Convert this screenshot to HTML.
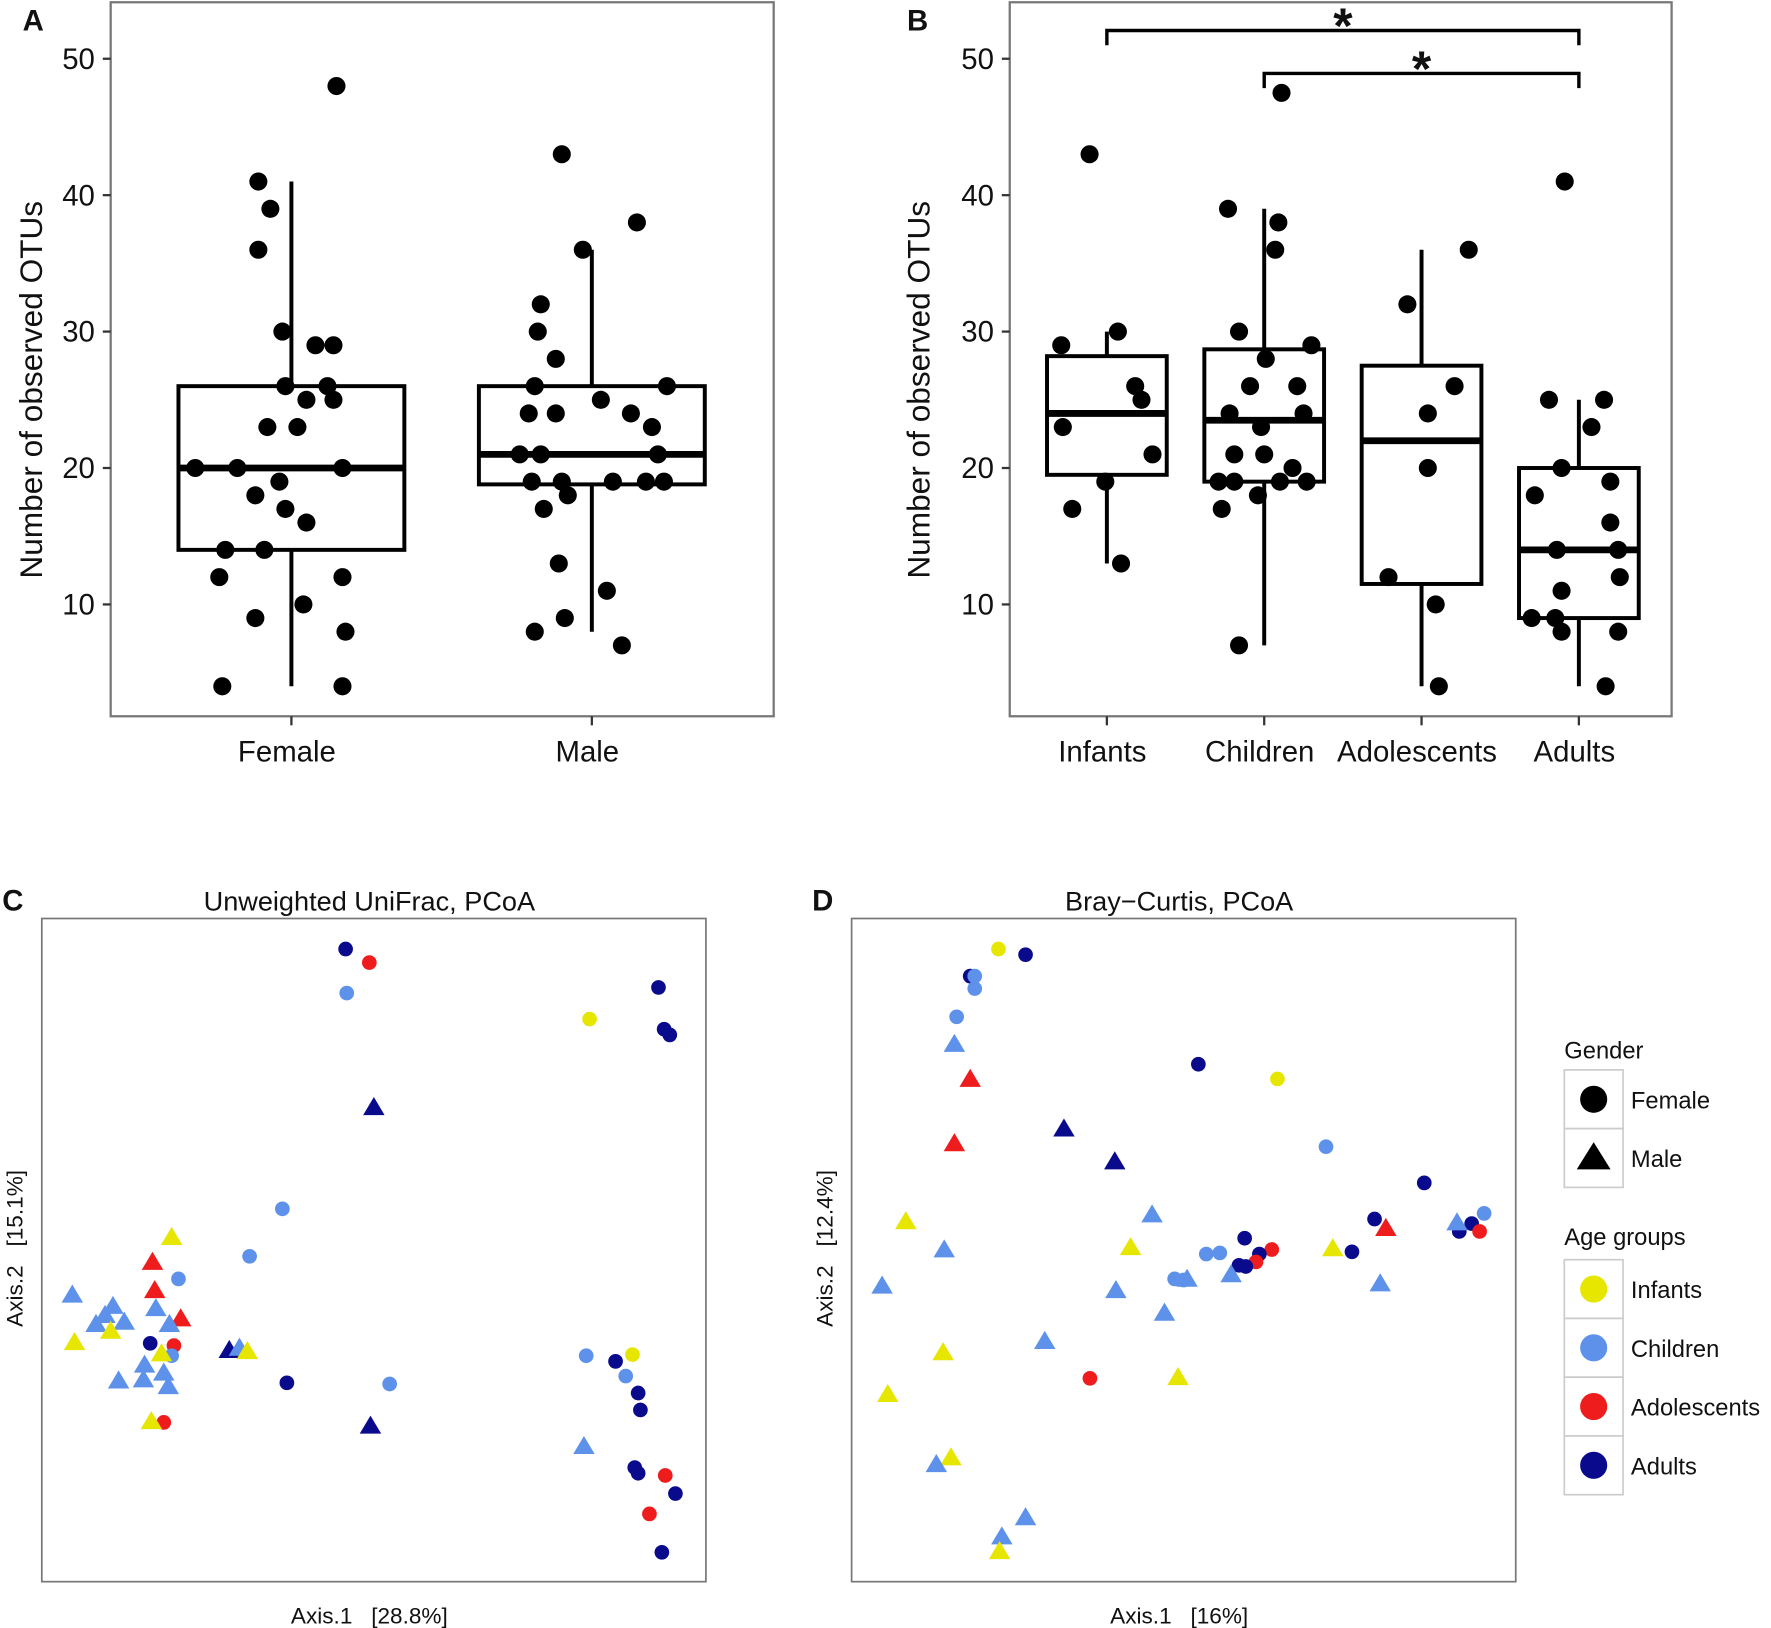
<!DOCTYPE html>
<html><head><meta charset="utf-8"><style>
html,body{margin:0;padding:0;background:#fff}
svg{display:block;font-family:"Liberation Sans",Arial,sans-serif}
text{white-space:pre}
</style></head><body>
<svg id="fig" width="1771" height="1628" viewBox="0 0 1568 1441" preserveAspectRatio="none" xmlns="http://www.w3.org/2000/svg">
<g id="gA"></g>
<g id="gB"></g>
<g id="gC"></g>
<g id="gD"></g>
<g id="gL"></g>
</svg>
<script>
// ---- Panel A data ----
const catsA = ["Female","Male"];
const boxA = [[4,14,20,26,41],[8,18.8,21,26,36]];
const ptsAFemale = [48,41,39,36,30,29,29,26,26,25,25,23,23,20,20,20,19,18,17,16,14,14,12,12,10,9,8,4,4];
const jitAFemale = [0.15,-0.11,-0.07,-0.11,-0.03,0.08,0.14,-0.02,0.12,0.05,0.14,-0.08,0.02,-0.32,-0.18,0.17,-0.04,-0.12,-0.02,0.05,-0.22,-0.09,-0.24,0.17,0.04,-0.12,0.18,-0.23,0.17];
const ptsAMale = [43,38,36,32,30,28,26,26,25,24,24,24,23,21,21,21,19,19,19,19,19,18,17,13,11,9,8,7];
const jitAMale = [-0.1,0.15,-0.03,-0.17,-0.18,-0.12,-0.19,0.25,0.03,-0.21,-0.12,0.13,0.2,-0.24,-0.17,0.22,-0.2,-0.1,0.07,0.18,0.24,-0.08,-0.16,-0.11,0.05,-0.09,-0.19,0.1];
// ---- Panel B data ----
const catsB = ["Infants","Children","Adolescents","Adults"];
const boxB = [[13,19.5,24,28.2,30],[7,19,23.5,28.7,39],[4,11.5,22,27.5,36],[4,9,14,20,25]];
const ptsB = [
 [43,30,29,26,23,25,21,19,17,13],
 [47.5,39,38,36,30,29,28,26,26,24,24,23,21,21,20,19,19,19,19,18,17,7],
 [36,32,26,24,20,12,10,4],
 [41,25,25,23,20,18,19,16,14,14,12,11,9,9,8,8,4]];
const jitB = [
 [-0.11,0.07,-0.29,0.18,-0.28,0.22,0.29,-0.01,-0.22,0.09],
 [0.11,-0.23,0.09,0.07,-0.16,0.3,0.01,-0.09,0.21,-0.22,0.25,-0.02,-0.19,0,0.18,-0.29,-0.19,0.1,0.27,-0.04,-0.27,-0.16],
 [0.3,-0.09,0.21,0.04,0.04,-0.21,0.09,0.11],
 [-0.09,-0.19,0.16,0.08,-0.11,-0.28,0.2,0.2,-0.14,0.25,0.26,-0.11,-0.3,-0.15,-0.11,0.25,0.17]];
// ---- Panel C data (axis units) ----
const colorNames = ["Infants","Children","Adolescents","Adults"];
const cX = [269,290,270,546,551,556,485,213,184,121,96,117,115,217,308,482,508,523,517,528,530,525,528,552,561,538,549,108, 294,115,98,100,27,63,56,48,73,101,123,113,61,29,166,175,182,106,91,108,68,90,112,97,291,480];
const cY = [560,548,521,526,489,484,498,330,288,268,211,209,200,176,175,200,195,201,182,167,152,101,96,94,78,60,26,141, 420,305,283,258,254,244,236,228,230,242,233,228,222,212,205,207,204,202,192,185,178,179,173,142,138,120];
const cShape = [0,0,0,0,0,0,0,0,0,0,0,0,0,0,0,0,0,0,0,0,0,0,0,0,0,0,0,0, 1,1,1,1,1,1,1,1,1,1,1,1,1,1,1,1,1,1,1,1,1,1,1,1,1,1];
const cGroup = [3,2,1,3,3,3,0,1,1,1,3,2,1,3,1,1,3,0,1,3,3,3,3,2,3,2,3,2, 3,0,2,2,1,1,1,1,1,1,2,1,0,0,3,1,0,0,1,1,1,1,1,0,3,1];
// ---- Panel D data (axis units) ----
const dX = [130,154,105,109,109,93,307,377,420,507,463,560,549,538,556,443,348,372,361,314,326,358,343,349,286,294,211, 91,105,91,188,233,266,48,82,247,426,473,536,27,234,336,297,468,277,171,81,32,289,88,75,154,133,131];
const dY = [560,555,536,536,525,500,458,445,385,353,321,326,317,310,310,292,304,294,290,290,291,283,280,279,268,267,180, 476,445,388,401,372,325,319,294,296,295,313,318,262,258,272,268,264,238,213,203,166,181,110,104,57,40,27];
const dShape = [0,0,0,0,0,0,0,0,0,0,0,0,0,0,0,0,0,0,0,0,0,0,0,0,0,0,0, 1,1,1,1,1,1,1,1,1,1,1,1,1,1,1,1,1,1,1,1,1,1,1,1,1,1,1];
const dGroup = [0,3,3,1,1,1,3,0,1,3,3,1,3,3,2,3,3,2,3,1,1,2,3,3,1,1,2, 1,2,2,3,3,1,0,1,0,0,2,1,1,1,1,1,1,1,1,0,0,0,0,1,1,1,0];

const NS="http://www.w3.org/2000/svg";
const palette=["#e6e600","#5e92ea","#ee1c1c","#0a0a8c"];
function el(parent,tag,attrs,name,inter){const e=document.createElementNS(NS,tag);for(const k in attrs)e.setAttribute(k,attrs[k]);


parent.appendChild(e);return e;}
function txt(parent,x,y,s,size,anchor,name,extra){const t=el(parent,'text',Object.assign({x:x,y:y,'font-size':size,'text-anchor':anchor||'middle',fill:'#111'},extra||{}),name,false);t.textContent=s;return t;}

const yBox=v=>535-(v-10)*12.075;
function boxPanel(g,x0,x1,catX,boxW,cats,boxes,pts,jits,spacing,letter,lx,titleX){
  el(g,'rect',{x:x0,y:2,width:x1-x0,height:632,fill:'none',stroke:'#777','stroke-width':2},'plot-frame',false);
  [10,20,30,40,50].forEach(v=>{el(g,'line',{x1:x0-7,x2:x0,y1:yBox(v),y2:yBox(v),stroke:'#333','stroke-width':2},'y-tick',false);
    txt(g,x0-14,yBox(v)+9,String(v),26,'end','y-tick-label');});
  cats.forEach((c,i)=>{const cx=catX(i);
    el(g,'line',{x1:cx,x2:cx,y1:634,y2:642,stroke:'#333','stroke-width':2},'x-tick',false);
    txt(g,cx-4,674,c,26,'middle','x-tick-label');
    const b=boxes[i];
    el(g,'line',{x1:cx,x2:cx,y1:yBox(b[0]),y2:yBox(b[4]),stroke:'#000','stroke-width':3.5},'whisker-'+c.toLowerCase(),false);
    el(g,'rect',{x:cx-boxW/2,y:yBox(b[3]),width:boxW,height:yBox(b[1])-yBox(b[3]),fill:'#fff',stroke:'#000','stroke-width':3.5},'box-'+c.toLowerCase(),false);
    el(g,'line',{x1:cx-boxW/2,x2:cx+boxW/2,y1:yBox(b[2]),y2:yBox(b[2]),stroke:'#000','stroke-width':6},'median-'+c.toLowerCase(),false);
    pts[i].forEach((v,j)=>{el(g,'circle',{cx:cx+jits[i][j]*spacing,cy:yBox(v),r:8,fill:'#000'},'point-'+c.toLowerCase(),false);});
  });
  txt(g,titleX,345,'Number of observed OTUs',28,'middle','y-axis-title',{transform:'rotate(-90 '+titleX+' 345)'});
  txt(g,lx,27,letter,26,'start','panel-letter',{'font-weight':'bold'});
}
const gA=document.getElementById('gA');
boxPanel(gA,98,685,i=>258+i*266,200,catsA,boxA,[ptsAFemale,ptsAMale],[jitAFemale,jitAMale],266,'A',20,37);
const gB=document.getElementById('gB');
boxPanel(gB,894,1480,i=>980+i*139.3,106,catsB,boxB,ptsB,jitB,139.3,'B',803,823);
function bracket(a,b,y,name){const xa=980+a*139.3,xb=980+b*139.3;
  el(gB,'path',{d:`M${xa} ${y+13}V${y}H${xb}V${y+13}`,fill:'none',stroke:'#000','stroke-width':3},name,false);
  txt(gB,(xa+xb)/2,y+11,'*',44,'middle',name+'-star',{'font-weight':'bold'});}
bracket(0,3,27,'bracket-infants-adults');
bracket(1,3,65,'bracket-children-adults');

function pcoa(g,x0,xs,ys,sh,gr,title,xl,yl,letter){
  const W=588,H=587;
  const sx=v=>x0+v*(W/588), sy=v=>1400-v*(H/587);
  el(g,'rect',{x:x0,y:813,width:W,height:H,fill:'none',stroke:'#777','stroke-width':1.5},'plot-frame',false);
  txt(g,x0+W/2-4,806,title,24,'middle','plot-title');
  txt(g,x0+W/2-4,1437,xl,20,'middle','x-axis-title');
  txt(g,x0-17,1105,yl,20,'middle','y-axis-title',{transform:`rotate(-90 ${x0-17} 1105)`});
  txt(g,x0-35,806,letter,26,'start','panel-letter',{'font-weight':'bold'});
  xs.forEach((v,i)=>{const x=sx(v),y=sy(ys[i]),c=palette[gr[i]];
    if(sh[i]===0) el(g,'circle',{cx:x,cy:y,r:6.5,fill:c},'point-'+colorNames[gr[i]].toLowerCase(),false);
    else el(g,'polygon',{points:`${x},${y-9} ${x-9.5},${y+7} ${x+9.5},${y+7}`,fill:c},'triangle-'+colorNames[gr[i]].toLowerCase(),false);
  });
}
pcoa(document.getElementById('gC'),37,cX,cY,cShape,cGroup,'Unweighted UniFrac, PCoA','Axis.1   [28.8%]','Axis.2   [15.1%]','C');
pcoa(document.getElementById('gD'),754,dX,dY,dShape,dGroup,'Bray\u2212Curtis, PCoA','Axis.1   [16%]','Axis.2   [12.4%]','D');

const gL=document.getElementById('gL');
txt(gL,1385,937,'Gender',21,'start','legend-title-gender');
[['Female',0],['Male',1]].forEach((e,i)=>{const y=947+i*52;
  el(gL,'rect',{x:1385,y:y,width:52,height:52,fill:'#fff',stroke:'#ccc','stroke-width':1.5},'legend-key',false);
  if(e[1]===0) el(gL,'circle',{cx:1411,cy:y+26,r:12,fill:'#000'},'legend-symbol-female',false);
  else el(gL,'polygon',{points:`1411,${y+12} 1396,${y+36} 1426,${y+36}`,fill:'#000'},'legend-symbol-male',false);
  txt(gL,1444,y+34,e[0],21,'start','legend-entry-'+e[0].toLowerCase());});
txt(gL,1385,1102,'Age groups',21,'start','legend-title-age');
colorNames.forEach((n,i)=>{const y=1115+i*52;
  el(gL,'rect',{x:1385,y:y,width:52,height:52,fill:'#fff',stroke:'#ccc','stroke-width':1.5},'legend-key',false);
  el(gL,'circle',{cx:1411,cy:y+26,r:12,fill:palette[i]},'legend-symbol-'+n.toLowerCase(),false);
  txt(gL,1444,y+34,n,21,'start','legend-entry-'+n.toLowerCase());});
</script>
</body></html>
